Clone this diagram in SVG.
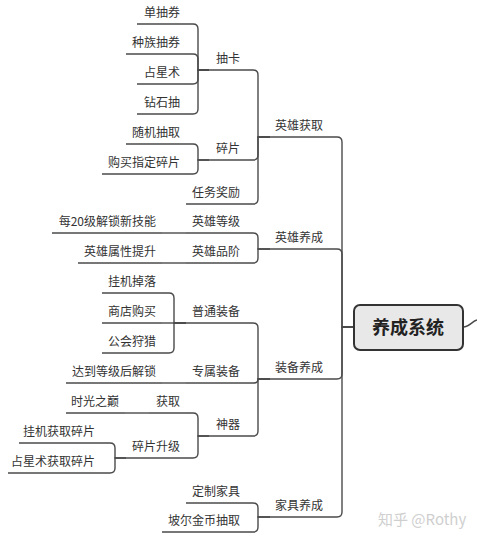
<svg xmlns="http://www.w3.org/2000/svg" width="477" height="543" viewBox="0 0 477 543">
<style>
.t{font-family:"Noto Sans CJK SC","Liberation Sans",sans-serif;font-size:12px;fill:#333;text-anchor:end}
.u{stroke:#4a4a4a;stroke-width:1.4;fill:none}
.c{stroke:#4a4a4a;stroke-width:1.4;fill:none}
.root{fill:#e8e8e8;stroke:#333;stroke-width:2}
.rt{font-family:"Noto Sans CJK SC","Liberation Sans",sans-serif;font-size:18px;font-weight:bold;fill:#222;text-anchor:middle}
.wm{font-family:"Noto Sans CJK SC","Liberation Sans",sans-serif;font-size:15px;fill:#cfcfcf}
</style>
<rect width="477" height="543" fill="#ffffff"/>
<g id="connectors">
<path class="c" d="M463,327 C470,327 472,321 477,320"/>
<path class="c" d="M353,327 H342 V142 Q342,137 337,137 H329"/>
<path class="c" d="M353,327 H342 V254 Q342,249 337,249 H329"/>
<path class="c" d="M353,327 H342 V374 Q342,379 337,379 H329"/>
<path class="c" d="M353,327 H342 V512 Q342,517 337,517 H329"/>
<path class="c" d="M270,137 H258 V75 Q258,70 253,70 H246"/>
<path class="c" d="M270,137 H258 V155 Q258,160 253,160 H246"/>
<path class="c" d="M270,137 H258 V199 Q258,204 253,204 H246"/>
<path class="c" d="M270,249 H258 V238 Q258,233 253,233 H246"/>
<path class="c" d="M270,249 H258 V258 Q258,263 253,263 H246"/>
<path class="c" d="M270,379 H258 V328 Q258,323 253,323 H246"/>
<path class="c" d="M270,379 H258 V379 Q258,383 254,383 H246"/>
<path class="c" d="M270,379 H258 V431 Q258,436 253,436 H246"/>
<path class="c" d="M270,517 H258 V508 Q258,503 253,503 H246"/>
<path class="c" d="M270,517 H258 V527 Q258,532 253,532 H246"/>
<path class="c" d="M209,70 H198 V29 Q198,24 193,24 H186"/>
<path class="c" d="M209,70 H198 V59 Q198,54 193,54 H186"/>
<path class="c" d="M209,70 H198 V79 Q198,84 193,84 H186"/>
<path class="c" d="M209,70 H198 V109 Q198,114 193,114 H186"/>
<path class="c" d="M209,160 H198 V149 Q198,144 193,144 H186"/>
<path class="c" d="M209,160 H198 V169 Q198,174 193,174 H186"/>
<path class="c" d="M186,233 H162"/>
<path class="c" d="M186,263 H162"/>
<path class="c" d="M186,323 H174 V298 Q174,293 169,293 H162"/>
<path class="c" d="M186,323 H162"/>
<path class="c" d="M186,323 H174 V348 Q174,353 169,353 H162"/>
<path class="c" d="M186,383 H162"/>
<path class="c" d="M209,436 H198 V418 Q198,413 193,413 H186"/>
<path class="c" d="M209,436 H198 V453 Q198,458 193,458 H186"/>
<path class="c" d="M149,413 H125"/>
<path class="c" d="M126,458 H115 V448 Q115,443 110,443 H101"/>
<path class="c" d="M126,458 H115 V468 Q115,473 110,473 H101"/>
</g>
<g id="root"><rect class="root" x="354" y="305" width="109" height="45" rx="6"/><text class="rt" x="408" y="334">养成系统</text></g>
<g id="n-yxhq"><line class="u" x1="270" y1="137" x2="329" y2="137"/><text class="t" x="323" y="130">英雄获取</text></g>
<g id="n-yxyc"><line class="u" x1="270" y1="249" x2="329" y2="249"/><text class="t" x="323" y="242">英雄养成</text></g>
<g id="n-zbyc"><line class="u" x1="270" y1="379" x2="329" y2="379"/><text class="t" x="323" y="372">装备养成</text></g>
<g id="n-jjyc"><line class="u" x1="270" y1="517" x2="329" y2="517"/><text class="t" x="323" y="510">家具养成</text></g>
<g id="n-ck"><line class="u" x1="209" y1="70" x2="246" y2="70"/><text class="t" x="240" y="63">抽卡</text></g>
<g id="n-sp"><line class="u" x1="209" y1="160" x2="246" y2="160"/><text class="t" x="240" y="153">碎片</text></g>
<g id="n-rwjl"><line class="u" x1="186" y1="204" x2="246" y2="204"/><text class="t" x="240" y="197">任务奖励</text></g>
<g id="n-yxdj"><line class="u" x1="186" y1="233" x2="246" y2="233"/><text class="t" x="240" y="226">英雄等级</text></g>
<g id="n-yxpj"><line class="u" x1="186" y1="263" x2="246" y2="263"/><text class="t" x="240" y="256">英雄品阶</text></g>
<g id="n-ptzb"><line class="u" x1="186" y1="323" x2="246" y2="323"/><text class="t" x="240" y="316">普通装备</text></g>
<g id="n-zszb"><line class="u" x1="186" y1="383" x2="246" y2="383"/><text class="t" x="240" y="376">专属装备</text></g>
<g id="n-sq"><line class="u" x1="209" y1="436" x2="246" y2="436"/><text class="t" x="240" y="429">神器</text></g>
<g id="n-dzjj"><line class="u" x1="186" y1="503" x2="246" y2="503"/><text class="t" x="240" y="496">定制家具</text></g>
<g id="n-pejb"><line class="u" x1="162" y1="532" x2="246" y2="532"/><text class="t" x="240" y="525">坡尔金币抽取</text></g>
<g id="n-dcq"><line class="u" x1="137" y1="24" x2="186" y2="24"/><text class="t" x="180" y="17">单抽券</text></g>
<g id="n-zzcq"><line class="u" x1="126" y1="54" x2="186" y2="54"/><text class="t" x="180" y="47">种族抽券</text></g>
<g id="n-zxs"><line class="u" x1="137" y1="84" x2="186" y2="84"/><text class="t" x="180" y="77">占星术</text></g>
<g id="n-zsc"><line class="u" x1="137" y1="114" x2="186" y2="114"/><text class="t" x="180" y="107">钻石抽</text></g>
<g id="n-sjcq"><line class="u" x1="126" y1="144" x2="186" y2="144"/><text class="t" x="180" y="137">随机抽取</text></g>
<g id="n-gmzd"><line class="u" x1="102" y1="174" x2="186" y2="174"/><text class="t" x="180" y="167">购买指定碎片</text></g>
<g id="n-m20"><line class="u" x1="52" y1="233" x2="162" y2="233"/><text class="t" x="156" y="226">每20级解锁新技能</text></g>
<g id="n-yxsx"><line class="u" x1="78" y1="263" x2="162" y2="263"/><text class="t" x="156" y="256">英雄属性提升</text></g>
<g id="n-gjdl"><line class="u" x1="102" y1="293" x2="162" y2="293"/><text class="t" x="156" y="286">挂机掉落</text></g>
<g id="n-sdgm"><line class="u" x1="102" y1="323" x2="162" y2="323"/><text class="t" x="156" y="316">商店购买</text></g>
<g id="n-ghsl"><line class="u" x1="102" y1="353" x2="162" y2="353"/><text class="t" x="156" y="346">公会狩猎</text></g>
<g id="n-ddjs"><line class="u" x1="66" y1="383" x2="162" y2="383"/><text class="t" x="156" y="376">达到等级后解锁</text></g>
<g id="n-hq"><line class="u" x1="149" y1="413" x2="186" y2="413"/><text class="t" x="180" y="406">获取</text></g>
<g id="n-spsj"><line class="u" x1="126" y1="458" x2="186" y2="458"/><text class="t" x="180" y="451">碎片升级</text></g>
<g id="n-sgzd"><line class="u" x1="66" y1="413" x2="125" y2="413"/><text class="t" x="119" y="406">时光之巅</text></g>
<g id="n-gjhq"><line class="u" x1="19" y1="443" x2="101" y2="443"/><text class="t" x="95" y="436">挂机获取碎片</text></g>
<g id="n-zxshq"><line class="u" x1="8" y1="473" x2="101" y2="473"/><text class="t" x="95" y="466">占星术获取碎片</text></g>
<text class="wm" x="378" y="525">知乎 @Rothy</text>
</svg>
